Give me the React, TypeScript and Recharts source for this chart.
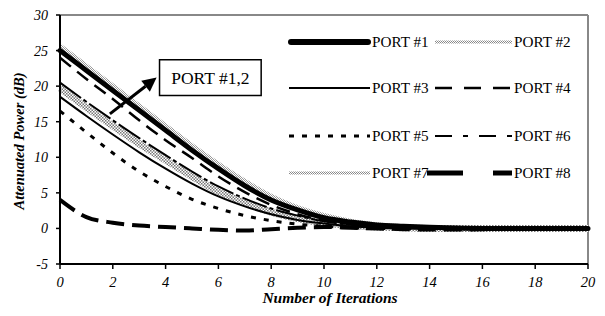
import React from 'react';
import { LineChart, Line, XAxis, YAxis, ReferenceLine, ReferenceArea } from 'recharts';

const iterations = [0, 1, 2, 3, 4, 5, 6, 7, 8, 9, 10, 11, 12, 13, 14, 15, 16, 17, 18, 19, 20];
const port1 = [25.0, 22.2, 19.4, 16.6, 13.8, 11.0, 8.4, 6.0, 4.0, 2.6, 1.5, 0.9, 0.5, 0.3, 0.15, 0.05, 0, 0, 0, 0, 0];
const port2 = [25.7, 22.9, 20.1, 17.3, 14.5, 11.7, 9.1, 6.7, 4.6, 3.0, 1.9, 1.1, 0.6, 0.3, 0.1, 0, 0, 0, 0, 0, 0];
const port3 = [18.5, 15.8, 13.2, 10.7, 8.4, 6.3, 4.5, 3.1, 2.0, 1.2, 0.7, 0.3, 0.1, 0, 0, 0, 0, 0, 0, 0, 0];
const port4 = [24.0, 21.0, 18.2, 15.2, 12.4, 9.9, 7.3, 5.1, 3.3, 2.0, 1.1, 0.6, 0.3, 0.1, 0, 0, 0, 0, 0, 0, 0];
const port5 = [16.5, 13.5, 10.6, 8.0, 5.9, 4.1, 2.8, 1.8, 1.1, 0.6, 0.3, 0.1, 0, 0, 0, 0, 0, 0, 0, 0, 0];
const port6 = [20.5, 17.8, 15.2, 12.7, 10.3, 8.0, 5.9, 4.2, 2.8, 1.8, 1.0, 0.5, 0.2, 0.1, 0, 0, 0, 0, 0, 0, 0];
const port7 = [19.7, 17.0, 14.4, 11.9, 9.6, 7.3, 5.2, 3.6, 2.3, 1.4, 0.8, 0.4, 0.2, 0.1, 0, 0, 0, 0, 0, 0, 0];
const port8 = [4.0, 1.6, 0.8, 0.4, 0.2, 0.0, -0.2, -0.3, -0.1, 0.1, 0.2, 0.1, 0, -0.1, -0.15, -0.15, -0.1, 0, 0, 0, 0];

const xTicks = [0, 2, 4, 6, 8, 10, 12, 14, 16, 18, 20];
const yTicks = [-5, 0, 5, 10, 15, 20, 25, 30];
const seriesNames = ['PORT #1', 'PORT #2', 'PORT #3', 'PORT #4', 'PORT #5', 'PORT #6', 'PORT #7', 'PORT #8'];
const annotationText = 'PORT #1,2';
const xTitle = 'Number of Iterations';
const yTitle = 'Attenuated Power (dB)';

const data = iterations.map((it, i) => ({
  it,
  p1: port1[i], p2: port2[i], p3: port3[i], p4: port4[i],
  p5: port5[i], p6: port6[i], p7: port7[i], p8: port8[i],
}));

const FONT = 'Liberation Serif, DejaVu Serif, serif';
const fontStyleObj = { fontFamily: FONT };

type Style = { stroke: string; width: number; dash?: string; cap?: 'round' | 'butt' | 'square'; legendDash?: string };
const styles: Record<string, Style> = {
  p1: { stroke: '#000', width: 5, cap: 'round' },
  p2: { stroke: 'url(#hatchLight)', width: 4 },
  p3: { stroke: '#000', width: 2 },
  p4: { stroke: '#000', width: 2.5, dash: '14 8', legendDash: '17 12' },
  p5: { stroke: '#000', width: 3, dash: '5 8', legendDash: '5 8' },
  p6: { stroke: '#000', width: 2, dash: '26 3 4 3', legendDash: '17 11 5 11' },
  p7: { stroke: 'url(#hatchDark)', width: 7 },
  p8: { stroke: '#000', width: 4, dash: '18 8', legendDash: '36 30' },
};
const drawOrder = ['p2', 'p7', 'p1', 'p4', 'p6', 'p3', 'p5', 'p8'];
const keys = ['p1', 'p2', 'p3', 'p4', 'p5', 'p6', 'p7', 'p8'];

const ArrowShape = (props: any) => {
  const { x1, y1, x2, y2 } = props;
  if (x1 == null) return null;
  const dx = x2 - x1;
  const dy = y2 - y1;
  const len = Math.sqrt(dx * dx + dy * dy);
  const ux = dx / len;
  const uy = dy / len;
  const hl = 14;
  const hw = 7;
  const bx = x2 - ux * hl;
  const by = y2 - uy * hl;
  const pts = `${x2},${y2} ${bx - uy * hw},${by + ux * hw} ${bx + uy * hw},${by - ux * hw}`;
  return (
    <g>
      <line x1={x1} y1={y1} x2={bx} y2={by} stroke="#000" strokeWidth={3} />
      <polygon points={pts} fill="#000" />
    </g>
  );
};

const LegendOverlay = () => {
  const rowsY = [42, 88, 136, 173];
  const cols = [
    { x1: 289, x2: 370, tx: 372 },
    { x1: 435, x2: 512, tx: 514 },
  ];
  return (
    <svg width={605} height={316} style={{ position: 'absolute', left: 0, top: 0, pointerEvents: 'none' }}>
      <defs>
        <pattern id="hatchLegend" width="2" height="2" patternUnits="userSpaceOnUse">
          <rect width="2" height="2" fill="#fff" />
          <rect width="1" height="1" fill="#888" />
          <rect x="1" y="1" width="1" height="1" fill="#888" />
        </pattern>
      </defs>
      {keys.map((k, i) => {
        const row = Math.floor(i / 2);
        const col = cols[i % 2];
        const y = rowsY[row];
        const s = styles[k];
        const isHatch = s.stroke.startsWith('url');
        return (
          <g key={k}>
            {k === 'p8' ? (
              <g>
                <line x1={427} y1={y} x2={463} y2={y} stroke="#000" strokeWidth={5} />
                <line x1={493} y1={y} x2={512} y2={y} stroke="#000" strokeWidth={5} />
              </g>
            ) : (
              <line
                x1={col.x1 + (k === 'p1' ? 2 : 0)}
                y1={y}
                x2={col.x2 - (k === 'p1' ? 2 : 0)}
                y2={y}
                stroke={isHatch ? 'url(#hatchLegend)' : s.stroke}
                strokeWidth={k === 'p1' ? 6 : isHatch ? 3 : s.width}
                strokeDasharray={s.legendDash}
                strokeLinecap={k === 'p1' ? 'round' : 'butt'}
              />
            )}
            <text x={col.tx} y={y + 5} style={fontStyleObj} fontSize={15.2} fill="#000">
              {seriesNames[i]}
            </text>
          </g>
        );
      })}
    </svg>
  );
};

export default function App() {
  return (
    <div style={{ position: 'absolute', left: 0, top: 0, width: 605, height: 316, background: '#fff', fontFamily: FONT }}>
      <LineChart
        width={605}
        height={316}
        data={data}
        margin={{ top: 15, right: 17, bottom: 12, left: 15 }}
        style={fontStyleObj}
      >
        <defs>
          <pattern id="hatchLight" width="2" height="2" patternUnits="userSpaceOnUse">
            <rect width="2" height="2" fill="#fff" />
            <rect width="1" height="1" fill="#999" />
            <rect x="1" y="1" width="1" height="1" fill="#999" />
          </pattern>
          <pattern id="hatchDark" width="3" height="3" patternUnits="userSpaceOnUse">
            <rect width="3" height="3" fill="#fff" />
            <rect width="1.5" height="1.5" fill="#777" />
            <rect x="1.5" y="1.5" width="1.5" height="1.5" fill="#777" />
          </pattern>
        </defs>
        <XAxis
          dataKey="it"
          type="number"
          domain={[0, 20]}
          ticks={xTicks}
          interval={0}
          height={40}
          tickSize={5}
          tickMargin={8}
          axisLine={{ stroke: '#000', strokeWidth: 2 }}
          tickLine={{ stroke: '#000', strokeWidth: 1.5 }}
          tick={{ style: fontStyleObj, fontStyle: 'italic', fontSize: 14.5, fill: '#000' }}
          label={(p: any) => (
            <text
              x={330}
              y={303}
              textAnchor="middle"
              style={fontStyleObj}
              fontStyle="italic"
              fontWeight="bold"
              fontSize={15.5}
              fill="#000"
            >
              {xTitle}
            </text>
          )}
        />
        <YAxis
          type="number"
          domain={[-5, 30]}
          ticks={yTicks}
          interval={0}
          width={45}
          tickSize={4}
          tickMargin={8}
          axisLine={{ stroke: '#000', strokeWidth: 2 }}
          tickLine={{ stroke: '#000', strokeWidth: 1.5 }}
          tick={{ style: fontStyleObj, fontStyle: 'italic', fontSize: 14, fill: '#000' }}
          label={(p: any) => (
            <text
              x={24}
              y={141}
              transform="rotate(-90 24 141)"
              textAnchor="middle"
              style={fontStyleObj}
              fontStyle="italic"
              fontWeight="bold"
              fontSize={14.5}
              fill="#000"
            >
              {yTitle}
            </text>
          )}
        />
        <ReferenceLine y={30} stroke="#888" strokeWidth={2} />
        <ReferenceLine x={20} stroke="#888" strokeWidth={2} />
        {drawOrder.map((k) => {
          const s = styles[k];
          return (
            <Line
              key={k}
              dataKey={k}
              name={seriesNames[keys.indexOf(k)]}
              type="monotone"
              stroke={s.stroke}
              strokeWidth={s.width}
              strokeDasharray={s.dash}
              strokeLinecap={s.cap || 'butt'}
              dot={false}
              activeDot={false}
              isAnimationActive={false}
            />
          );
        })}
        <ReferenceArea
          x1={3.77}
          x2={7.62}
          y1={18.7}
          y2={23.7}
          fill="#fff"
          fillOpacity={1}
          stroke="#000"
          strokeWidth={1.5}
          label={{ value: annotationText, position: 'center', style: fontStyleObj, fontSize: 17.5, fill: '#000' }}
        />
        <ReferenceLine
          segment={[{ x: 1.89, y: 16.1 }, { x: 3.66, y: 21.2 }]}
          shape={ArrowShape}
        />
      </LineChart>
      <LegendOverlay />
    </div>
  );
}
